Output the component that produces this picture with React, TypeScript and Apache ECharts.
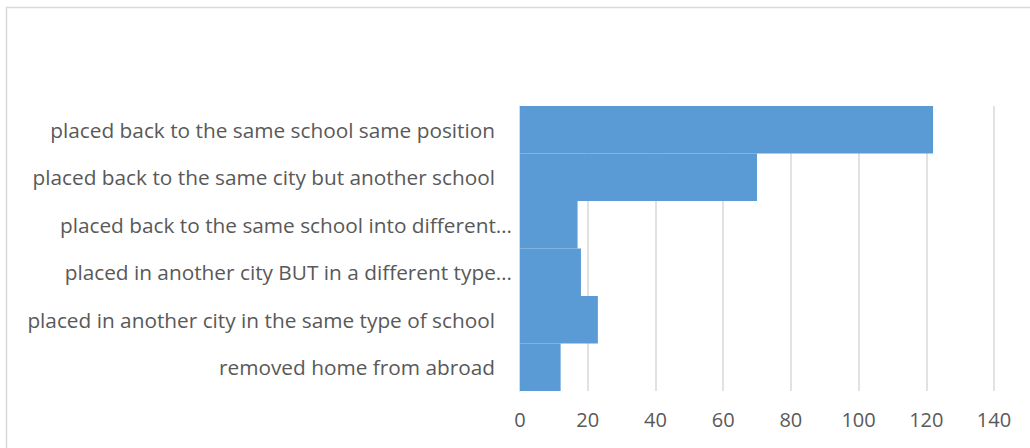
import React, { useEffect, useRef } from "react";
import * as echarts from "echarts";

const categories = [
  "placed back to the same school same position",
  "placed back to the same city but another school",
  "placed back to the same school into different…",
  "placed in another city BUT in a different type…",
  "placed in another city in the same type of school",
  "removed home from abroad",
];
const values = [122, 70, 17, 18, 23, 12];
const truncated = [false, false, true, true, false, false];
const xTicks = { min: 0, max: 140, interval: 20 };

export default function App() {
  const ref = useRef<HTMLDivElement>(null);
  useEffect(() => {
    document.body.style.margin = "0";
    const chart = echarts.init(ref.current!, null, { renderer: "svg" });
    const fontFamily = "'Open Sans', Lato, sans-serif";
    const catSize = 20.8;
    chart.setOption({
      animation: false,
      backgroundColor: "#ffffff",
      graphic: [
        {
          type: "rect",
          shape: { x: 6.5, y: 7.5, width: 1040, height: 460 },
          style: { fill: "none", stroke: "#d9d9d9", lineWidth: 1.5 },
          silent: true,
        },
      ],
      grid: { left: 520, right: 36, top: 106, bottom: 57 },
      xAxis: {
        type: "value",
        min: xTicks.min,
        max: xTicks.max,
        interval: xTicks.interval,
        axisLine: { show: false },
        axisTick: { show: false },
        splitLine: { show: true, lineStyle: { color: "#d9d9d9", width: 1.5 } },
        axisLabel: {
          color: "#595959",
          fontSize: 20,
          fontFamily,
          margin: 18,
        },
      },
      yAxis: {
        type: "category",
        inverse: true,
        data: categories,
        axisLine: { show: true, lineStyle: { color: "#d9d9d9", width: 1.5 } },
        axisTick: { show: false },
        axisLabel: {
          color: "#595959",
          fontSize: catSize,
          fontFamily,
          margin: 8,
          formatter: (v: string, i: number) =>
            truncated[i] ? `{t|${v}}` : `{n|${v}}`,
          rich: {
            t: { color: "#595959", fontSize: catSize, fontFamily },
            n: { color: "#595959", fontSize: catSize, fontFamily, padding: [0, 17, 0, 0] },
          },
        },
      },
      series: [
        {
          type: "bar",
          data: values,
          barWidth: "100%",
          barCategoryGap: 0,
          itemStyle: { color: "#5b9bd5" },
        },
      ],
    });
    return () => chart.dispose();
  }, []);
  return <div ref={ref} style={{ width: 1030, height: 448 }} />;
}
